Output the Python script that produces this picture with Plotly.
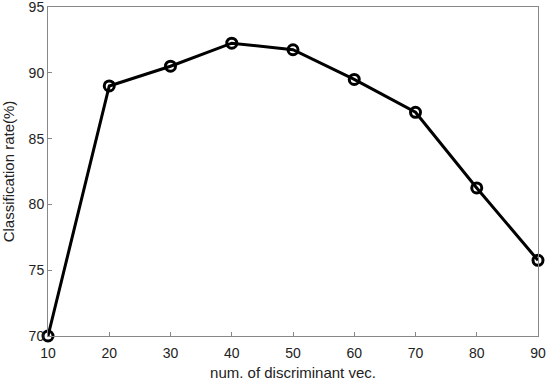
import plotly.graph_objects as go

num_vec = [10, 20, 30, 40, 50, 60, 70, 80, 90]
class_rate = [70.0, 89.0, 90.5, 92.25, 91.75, 89.5, 87.0, 81.25, 75.75]
x_ticks = [10, 20, 30, 40, 50, 60, 70, 80, 90]
y_ticks = [70, 75, 80, 85, 90, 95]

fig = go.Figure()
fig.add_trace(go.Scatter(
    x=num_vec, y=class_rate, mode="lines+markers",
    line=dict(color="black", width=3),
    marker=dict(symbol="circle-open", size=10, color="black", line=dict(width=3)),
    cliponaxis=False,
))

axis_common = dict(
    showline=True, linecolor="#888888", linewidth=1, mirror=True,
    ticks="inside", ticklen=4, tickcolor="#888888",
    showgrid=False, zeroline=False, automargin=False,
    ticklabeloverflow="allow",
    tickfont=dict(family="Arial, Liberation Sans", size=14, color="#222222"),
)

fig.update_layout(
    width=550, height=382,
    margin=dict(l=48, r=12, t=7, b=46),
    paper_bgcolor="white", plot_bgcolor="white",
    showlegend=False,
    xaxis=dict(range=[10, 90], tickvals=x_ticks, ticklabelstandoff=4, **axis_common,
               title=dict(text="num. of discriminant vec.", standoff=7,
                          font=dict(family="Arial, Liberation Sans", size=15, color="#222222"))),
    yaxis=dict(range=[70, 95], tickvals=y_ticks, **axis_common,
               title=dict(text="Classification rate(%)", standoff=10,
                          font=dict(family="Arial, Liberation Sans", size=15, color="#222222"))),
)

fig.write_html("out.html", config={"displayModeBar": False},
               post_script="document.body.style.margin='0px';")
